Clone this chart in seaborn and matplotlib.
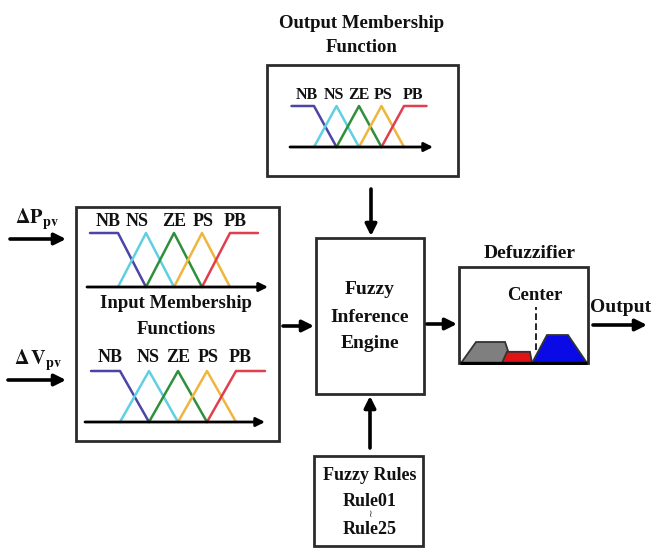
import matplotlib
matplotlib.use("Agg")
import matplotlib.pyplot as plt
from matplotlib.patches import Rectangle, Polygon
import seaborn as sns
import pandas as pd

# ---------------- data ----------------
mf_labels = ["NB", "NS", "ZE", "PS", "PB"]
mf_colors = ["#4b45a6", "#5fd0e2", "#2f8f3c", "#f0b53c", "#e0404e"]
mf_x = [[-3, -2, -1], [-2, -1, 0], [-1, 0, 1], [0, 1, 2], [1, 2, 3]]
mf_y = [[1, 1, 0], [0, 1, 0], [0, 1, 0], [0, 1, 0], [0, 1, 1]]

defuzz_names = ["gray", "red", "blue"]
defuzz_colors = ["#7f7f7f", "#e01414", "#0a0ae6"]
defuzz_x = [[0.16, 1.32, 3.57, 4.11], [3.33, 3.72, 5.50, 5.66], [5.66, 6.82, 8.45, 9.92]]
defuzz_y = [[0, 0.75, 0.75, 0], [0, 0.40, 0.40, 0], [0, 1.0, 1.0, 0]]
defuzz_center = 5.97

rules_first = "Rule01"
rules_last = "Rule25"

# ---------------- setup ----------------
sns.set_theme(style="white")
plt.rcParams["font.family"] = ["Liberation Serif", "DejaVu Serif", "DejaVu Sans"]
plt.rcParams["mathtext.fontset"] = "stix"

W, H = 653, 550
fig = plt.figure(figsize=(W / 100, H / 100), dpi=100)
ax = fig.add_axes([0, 0, 1, 1])
ax.set_xlim(0, W)
ax.set_ylim(H, 0)
ax.axis("off")

BOX_C = "#2b2b2b"
FS = 14


def box(x0, x1, y0, y1):
    ax.add_patch(Rectangle((x0, y0), x1 - x0, y1 - y0, fill=False,
                           ec=BOX_C, lw=2.0))


def arrow(x0, y0, x1, y1, lw=2.6, ms=17, target=None):
    t = ax if target is None else target
    t.annotate("", xy=(x1, y1), xytext=(x0, y0),
               arrowprops=dict(arrowstyle="-|>", color="black", lw=lw,
                               mutation_scale=ms, shrinkA=0, shrinkB=0),
               annotation_clip=False)


def txt(x, y, s, fs=FS, **kw):
    ax.text(x, y, s, ha="center", va="center", fontsize=fs,
            fontweight="bold", color="#111111", **kw)


def inset(x0, x1, ytop, ybot):
    a = fig.add_axes([x0 / W, 1 - ybot / H, (x1 - x0) / W, (ybot - ytop) / H])
    a.axis("off")
    return a


def mf_panel(zero, unit, axis_y, one_y, ax_x0, ax_x1, label_pos, label_y, fs=13):
    px0, px1 = ax_x0 - 6, ax_x1 + 6
    ytop, ybot = label_y - 14, axis_y + 8
    a = inset(px0, px1, ytop, ybot)
    h = axis_y - one_y
    a.set_xlim((px0 - zero) / unit, (px1 - zero) / unit)
    a.set_ylim((axis_y - ybot) / h, (axis_y - ytop) / h)
    rows = []
    for name, xs, ys in zip(mf_labels, mf_x, mf_y):
        for k, (xx, yy) in enumerate(zip(xs, ys)):
            rows.append(dict(name=name, x=xx, mu=yy, order=k))
    df = pd.DataFrame(rows)
    for name, col in zip(mf_labels, mf_colors):
        d = df[df.name == name]
        sns.lineplot(data=d, x="x", y="mu", ax=a, color=col, lw=1.8,
                     sort=False, estimator=None, legend=False)
    a.set_xlabel("")
    a.set_ylabel("")
    a.axis("off")
    # universe axis with arrow
    arrow((ax_x0 - zero) / unit, 0, (ax_x1 - zero) / unit, 0, lw=2.0, ms=13, target=a)
    lab_y = (axis_y - label_y) / h
    for name, lp in zip(mf_labels, label_pos):
        a.text(lp, lab_y, name, ha="center", va="center", fontsize=fs,
               fontweight="bold", color="#111111")
    return a


# ---------------- boxes ----------------
box(267, 458, 65, 176)      # output MF
box(76, 279, 207, 441)      # input MF
box(316, 424, 238, 394)     # inference engine
box(459, 588, 267, 363)     # defuzzifier
box(314, 423, 456, 546)     # rules

# ---------------- texts ----------------
txt(362, 24, "Output Membership", fs=13.5)
txt(362, 47, "Function", fs=13.5)
txt(176, 303, "Input Membership", fs=13.5)
txt(176, 330, "Functions", fs=13.5)
txt(370, 290, "Fuzzy")
txt(370, 317, "Inference")
txt(370, 343, "Engine")
txt(530, 253, "Defuzzifier")
txt(535, 295, "Center", fs=13.5)
txt(621, 308, "Output")
txt(370, 475, "Fuzzy Rules", fs=13)
txt(370, 501, rules_first, fs=13)
ax.text(370, 514, "≀", ha="center", va="center", fontsize=7, color="#333333",
        family=["DejaVu Sans"])
txt(370, 529, rules_last, fs=13)
txt(37, 219, r"$\mathbf{\Delta P_{pv}}$", fs=14.5)
txt(38, 360, r"$\mathbf{\Delta\, V_{pv}}$", fs=14.5)

# ---------------- arrows ----------------
arrow(10, 239, 66, 239)
arrow(8, 380, 66, 380)
arrow(283, 326, 314, 326)
arrow(371, 189, 371, 236)
arrow(370, 448, 370, 396)
arrow(427, 324, 457, 324)
arrow(593, 325, 647, 325)

# ---------------- membership panels ----------------
mf_panel(174, 28.0, 287, 233, 87, 268,
         [-2.36, -1.32, 0.0, 1.04, 2.18], 222)
mf_panel(178, 29.0, 422, 371, 85, 265,
         [-2.34, -1.03, 0.0, 1.03, 2.14], 357)
mf_panel(359, 22.5, 147, 106, 290, 433,
         [-2.3, -1.12, 0.0, 1.07, 2.4], 95, fs=11.5)

# ---------------- defuzzifier ----------------
dx0, dx1, dbase, dunit = 459, 588, 363, 28.0
da = inset(dx0, dx1, 267, dbase + 2)
da.set_xlim(0, 10)
da.set_ylim(-2 / dunit, (dbase - 267) / dunit)
for nm, col, xs, ys in zip(defuzz_names, defuzz_colors, defuzz_x, defuzz_y):
    da.add_patch(Polygon(list(zip(xs, ys)), closed=True, fc=col,
                         ec="#333333", lw=1.3))
da.plot([0.05, 9.95], [0, 0], color="black", lw=2.4, solid_capstyle="butt")
da.plot([defuzz_center, defuzz_center], [0.46, 2.0], color="black",
        lw=1.2, ls=(0, (4, 2)))
da.axis("off")

fig.savefig("out.png", dpi=100)
